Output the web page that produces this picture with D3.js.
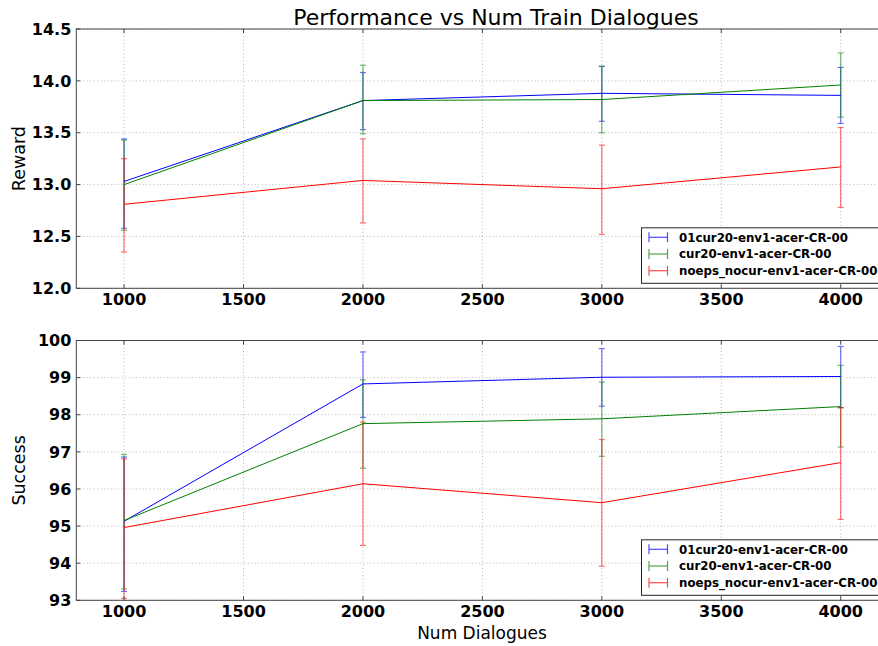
<!DOCTYPE html>
<html><head><meta charset="utf-8">
<script src="https://cdn.jsdelivr.net/npm/d3@7"></script>
<style>body{margin:0;background:#fff}svg{display:block}</style>
</head><body>
<script>
const dialogues = [1000, 2000, 3000, 4000];
const seriesNames = ["01cur20-env1-acer-CR-00", "cur20-env1-acer-CR-00", "noeps_nocur-env1-acer-CR-00"];
const seriesColors = ["#0000ff", "#008000", "#ff0000"];

const rewardBlue = [13.03, 13.81, 13.88, 13.86];
const rewardBlueLow = [12.58, 13.53, 13.61, 13.59];
const rewardBlueHigh = [13.44, 14.08, 14.14, 14.13];
const rewardGreen = [13.00, 13.81, 13.82, 13.96];
const rewardGreenLow = [12.56, 13.49, 13.50, 13.65];
const rewardGreenHigh = [13.43, 14.15, 14.14, 14.27];
const rewardRed = [12.81, 13.04, 12.96, 13.17];
const rewardRedLow = [12.35, 12.63, 12.52, 12.78];
const rewardRedHigh = [13.25, 13.44, 13.38, 13.55];

const successBlue = [95.13, 98.83, 99.01, 99.03];
const successBlueLow = [93.24, 97.93, 98.23, 98.19];
const successBlueHigh = [96.86, 99.69, 99.78, 99.84];
const successGreen = [95.15, 97.76, 97.89, 98.22];
const successGreenLow = [93.31, 96.56, 96.88, 97.13];
const successGreenHigh = [96.93, 98.94, 98.88, 99.33];
const successRed = [94.96, 96.14, 95.63, 96.71];
const successRedLow = [93.05, 94.48, 93.92, 95.18];
const successRedHigh = [96.81, 97.80, 97.33, 98.19];

const xTicks = [1000, 1500, 2000, 2500, 3000, 3500, 4000];
const rewardTicks = [12.0, 12.5, 13.0, 13.5, 14.0, 14.5];
const successTicks = [93, 94, 95, 96, 97, 98, 99, 100];

const W = 878, H = 646;
const svg = d3.select("body").append("svg").attr("width", W).attr("height", H);
const FONT = "DejaVu Sans, sans-serif";

const x = d3.scaleLinear().domain([800, 4200]).range([76.3, 888.5]);

function panel(top, bottom, domain, ticks, fmt, label, data) {
  const y = d3.scaleLinear().domain(domain).range([bottom, top]);
  const g = svg.append("g");
  const left = x.range()[0], right = W + 5;
  // grid
  g.selectAll(".gx").data(xTicks).enter().append("line")
    .attr("x1", d => x(d)).attr("x2", d => x(d)).attr("y1", top).attr("y2", bottom)
    .attr("stroke", "#888").attr("stroke-width", 0.6).attr("stroke-dasharray", "1,2.5");
  g.selectAll(".gy").data(ticks).enter().append("line")
    .attr("x1", left).attr("x2", right).attr("y1", d => y(d)).attr("y2", d => y(d))
    .attr("stroke", "#888").attr("stroke-width", 0.6).attr("stroke-dasharray", "1,2.5");
  // series error bars
  data.forEach((s, i) => {
    const c = seriesColors[i];
    const eb = g.append("g").attr("opacity", 0.55);
    dialogues.forEach((d, k) => {
      eb.append("line").attr("x1", x(d)).attr("x2", x(d)).attr("y1", y(s.low[k])).attr("y2", y(s.high[k]))
        .attr("stroke", c).attr("stroke-width", 1.2);
      [s.low[k], s.high[k]].forEach(v => {
        eb.append("line").attr("x1", x(d) - 3).attr("x2", x(d) + 3).attr("y1", y(v)).attr("y2", y(v))
          .attr("stroke", c).attr("stroke-width", 1.2);
      });
    });
  });
  data.forEach((s, i) => {
    g.append("path").datum(dialogues.map((d, k) => [d, s.mean[k]]))
      .attr("d", d3.line().x(p => x(p[0])).y(p => y(p[1])))
      .attr("fill", "none").attr("stroke", seriesColors[i]).attr("stroke-width", 1);
  });
  // spines
  g.append("rect").attr("x", left).attr("y", top).attr("width", right - left).attr("height", bottom - top)
    .attr("fill", "none").attr("stroke", "#444").attr("stroke-width", 1);
  // ticks inward
  xTicks.forEach(t => {
    g.append("line").attr("x1", x(t)).attr("x2", x(t)).attr("y1", bottom).attr("y2", bottom - 4).attr("stroke", "#444");
    g.append("line").attr("x1", x(t)).attr("x2", x(t)).attr("y1", top).attr("y2", top + 4).attr("stroke", "#444");
  });
  ticks.forEach(t => {
    g.append("line").attr("x1", left).attr("x2", left + 4).attr("y1", y(t)).attr("y2", y(t)).attr("stroke", "#444");
  });
  // tick labels
  g.selectAll(".xl").data(xTicks).enter().append("text")
    .attr("x", d => x(d)).attr("y", bottom + 17).attr("text-anchor", "middle")
    .attr("font-family", FONT).attr("font-weight", "bold").attr("font-size", 16).text(d => d);
  g.selectAll(".yl").data(ticks).enter().append("text")
    .attr("x", left - 5).attr("y", d => y(d)).attr("dy", "0.36em").attr("text-anchor", "end")
    .attr("font-family", FONT).attr("font-weight", "bold").attr("font-size", 16).text(fmt);
  // y label
  g.append("text").attr("transform", `translate(25,${(top + bottom) / 2}) rotate(-90)`)
    .attr("text-anchor", "middle").attr("font-family", FONT).attr("font-size", 17.5).text(label);
  // legend
  const lb = bottom - 5, lh = 55.5, lx = 641.5;
  const lg = g.append("g");
  lg.append("rect").attr("x", lx).attr("y", lb - lh).attr("width", W - lx + 10).attr("height", lh)
    .attr("fill", "#fff").attr("stroke", "#222").attr("stroke-width", 1);
  seriesNames.forEach((n, i) => {
    const yy = lb - lh + 9.5 + i * 16.7;
    const c = seriesColors[i];
    const ic = lg.append("g").attr("opacity", 0.7);
    ic.append("line").attr("x1", 649).attr("x2", 667.5).attr("y1", yy).attr("y2", yy).attr("stroke", c).attr("stroke-width", 1.2);
    [649, 667.5].forEach(xx => ic.append("line").attr("x1", xx).attr("x2", xx).attr("y1", yy - 5).attr("y2", yy + 5).attr("stroke", c).attr("stroke-width", 1.2));
    lg.append("text").attr("x", 679).attr("y", yy).attr("dy", "0.36em")
      .attr("font-family", FONT).attr("font-weight", "bold").attr("font-size", 11.8).text(n);
  });
}

panel(29, 288.3, [12, 14.5], rewardTicks, d => d.toFixed(1), "Reward", [
  {mean: rewardBlue, low: rewardBlueLow, high: rewardBlueHigh},
  {mean: rewardGreen, low: rewardGreenLow, high: rewardGreenHigh},
  {mean: rewardRed, low: rewardRedLow, high: rewardRedHigh}
]);
panel(340.5, 600.3, [93, 100], successTicks, d => d, "Success", [
  {mean: successBlue, low: successBlueLow, high: successBlueHigh},
  {mean: successGreen, low: successGreenLow, high: successGreenHigh},
  {mean: successRed, low: successRedLow, high: successRedHigh}
]);

svg.append("text").attr("x", 496).attr("y", 25).attr("text-anchor", "middle")
  .attr("font-family", FONT).attr("font-size", 22).text("Performance vs Num Train Dialogues");
svg.append("text").attr("x", 482).attr("y", 639).attr("text-anchor", "middle")
  .attr("font-family", FONT).attr("font-size", 17).text("Num Dialogues");
</script>
</body></html>
